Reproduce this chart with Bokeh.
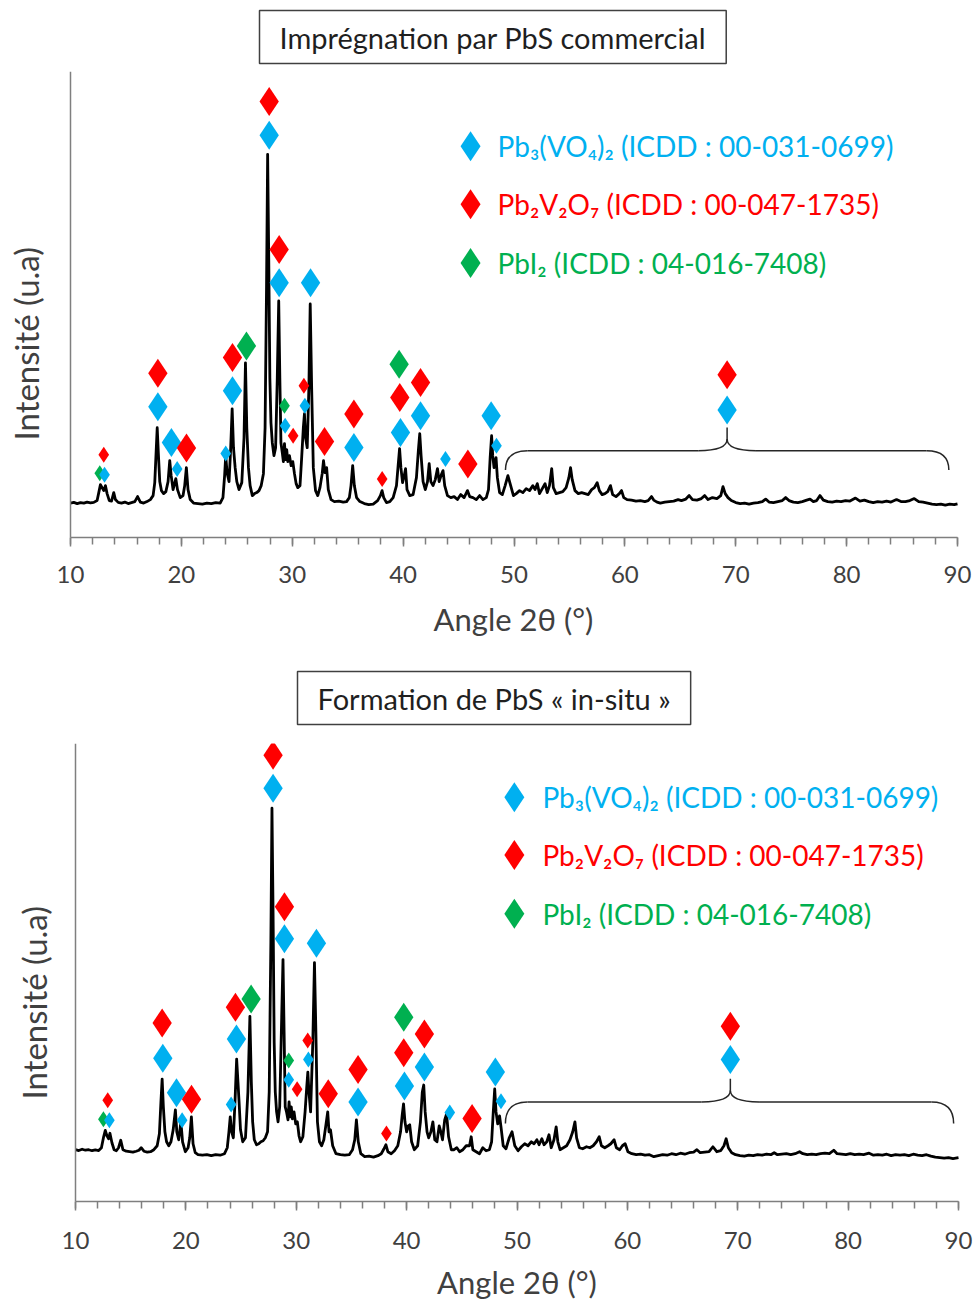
from bokeh.embed import file_html
from bokeh.models import FixedTicker, Label, Range1d, Span, Title
from bokeh.plotting import figure
from bokeh.resources import INLINE

FONT = "Lato"

# ---------------------------------------------------------------- data
# Diffractograms: (2theta in degrees, intensity in counts)
top_scan = [
    (10.0, 345), (10.3, 352), (10.6, 340), (10.9, 350), (11.2, 344), (11.5, 355), (11.8, 348),
    (12.1, 352), (12.4, 370), (12.55, 450), (12.7, 530), (12.85, 500), (13.0, 470), (13.15, 520),
    (13.3, 440), (13.5, 370), (13.7, 365), (13.9, 450), (14.05, 380), (14.3, 352), (14.6, 345),
    (14.9, 355), (15.2, 340), (15.5, 350), (15.8, 360), (16.05, 410), (16.3, 355), (16.6, 345),
    (16.9, 360), (17.2, 380), (17.45, 420), (17.6, 550), (17.72, 850), (17.82, 1100), (17.92, 850),
    (18.05, 560), (18.2, 470), (18.4, 440), (18.6, 460), (18.8, 560), (18.95, 770), (19.08, 620),
    (19.25, 480), (19.5, 590), (19.65, 480), (19.9, 400), (20.15, 420), (20.3, 520), (20.45, 700),
    (20.6, 480), (20.8, 380), (21.1, 345), (21.5, 340), (21.9, 335), (22.3, 345), (22.7, 340),
    (23.1, 350), (23.5, 345), (23.75, 400), (23.9, 620), (24.0, 820), (24.12, 650), (24.3, 560),
    (24.45, 900), (24.58, 1290), (24.7, 900), (24.85, 700), (25.0, 560), (25.2, 480), (25.45, 550),
    (25.65, 1000), (25.78, 1750), (25.9, 1100), (26.05, 700), (26.2, 520), (26.4, 420), (26.6, 440),
    (26.8, 450), (27.0, 470), (27.2, 520), (27.4, 640), (27.55, 1100), (27.68, 2500), (27.78, 3840),
    (27.88, 2800), (27.98, 1600), (28.08, 1150), (28.2, 950), (28.35, 820), (28.5, 900),
    (28.65, 1600), (28.78, 2370), (28.88, 1600), (28.98, 950), (29.1, 850), (29.2, 760), (29.3, 940),
    (29.4, 780), (29.5, 880), (29.6, 760), (29.75, 820), (29.9, 720), (30.05, 760), (30.2, 640),
    (30.35, 540), (30.5, 500), (30.7, 520), (30.85, 800), (31.0, 1100), (31.1, 1240), (31.2, 1000),
    (31.35, 900), (31.5, 1500), (31.62, 2340), (31.75, 1500), (31.9, 700), (32.1, 470), (32.3, 420),
    (32.5, 500), (32.7, 640), (32.82, 770), (32.95, 650), (33.1, 700), (33.25, 480), (33.5, 380),
    (33.8, 360), (34.2, 365), (34.6, 355), (34.9, 360), (35.15, 400), (35.3, 520), (35.45, 720),
    (35.6, 520), (35.8, 400), (36.1, 360), (36.5, 340), (36.9, 330), (37.3, 335), (37.7, 370),
    (37.95, 420), (38.1, 470), (38.25, 400), (38.5, 350), (38.8, 360), (39.1, 400), (39.4, 520),
    (39.55, 720), (39.68, 890), (39.8, 700), (39.95, 550), (40.1, 620), (40.22, 690), (40.35, 480),
    (40.6, 420), (40.9, 430), (41.2, 600), (41.38, 880), (41.5, 1040), (41.62, 820), (41.8, 560),
    (42.0, 480), (42.2, 560), (42.35, 740), (42.5, 560), (42.7, 520), (42.9, 580), (43.1, 690),
    (43.25, 560), (43.45, 630), (43.6, 670), (43.75, 520), (44.0, 420), (44.3, 400), (44.6, 410),
    (44.9, 380), (45.2, 430), (45.5, 400), (45.8, 470), (46.0, 410), (46.3, 400), (46.6, 380),
    (46.9, 420), (47.2, 380), (47.5, 400), (47.7, 480), (47.85, 800), (47.98, 1020), (48.08, 820),
    (48.2, 700), (48.38, 800), (48.5, 600), (48.7, 450), (48.95, 430), (49.2, 520), (49.45, 620),
    (49.7, 520), (49.95, 420), (50.2, 440), (50.5, 470), (50.8, 450), (51.1, 490), (51.4, 470),
    (51.7, 520), (51.9, 480), (52.1, 540), (52.3, 440), (52.5, 480), (52.8, 540), (53.0, 450),
    (53.2, 520), (53.4, 690), (53.55, 500), (53.8, 440), (54.1, 450), (54.4, 460), (54.7, 500),
    (54.95, 600), (55.1, 700), (55.25, 580), (55.5, 470), (55.8, 440), (56.1, 450), (56.4, 440),
    (56.7, 430), (57.0, 480), (57.25, 500), (57.5, 550), (57.7, 470), (57.95, 430), (58.2, 440),
    (58.45, 460), (58.7, 520), (58.9, 430), (59.2, 410), (59.5, 440), (59.7, 470), (59.9, 400),
    (60.2, 380), (60.6, 375), (61.0, 365), (61.4, 370), (61.8, 360), (62.1, 370), (62.4, 410),
    (62.6, 375), (62.9, 355), (63.2, 345), (63.6, 355), (64.0, 360), (64.4, 365), (64.8, 380),
    (65.1, 370), (65.5, 385), (65.8, 420), (66.1, 380), (66.5, 375), (66.9, 390), (67.2, 420),
    (67.5, 380), (67.9, 400), (68.3, 390), (68.65, 420), (68.85, 510), (69.05, 440), (69.3, 400),
    (69.6, 370), (70.0, 350), (70.4, 340), (70.8, 345), (71.2, 335), (71.6, 345), (72.0, 350),
    (72.4, 360), (72.7, 385), (73.0, 355), (73.4, 350), (73.8, 360), (74.2, 370), (74.5, 400),
    (74.8, 370), (75.2, 355), (75.6, 350), (76.0, 360), (76.4, 375), (76.7, 385), (77.0, 360),
    (77.3, 370), (77.6, 420), (77.9, 375), (78.3, 360), (78.7, 355), (79.1, 365), (79.5, 360),
    (79.9, 370), (80.3, 365), (80.8, 395), (81.2, 365), (81.6, 375), (82.0, 360), (82.4, 350),
    (82.8, 360), (83.2, 355), (83.6, 365), (84.0, 355), (84.5, 380), (84.9, 360), (85.3, 360),
    (85.7, 370), (86.1, 390), (86.5, 360), (86.9, 355), (87.3, 345), (87.7, 335), (88.1, 330),
    (88.5, 335), (88.9, 325), (89.3, 335), (89.7, 330), (90.0, 338),
]

bottom_scan = [
    (10.0, 520), (10.3, 512), (10.6, 525), (10.9, 515), (11.2, 520), (11.5, 510), (11.8, 518),
    (12.1, 512), (12.35, 540), (12.55, 650), (12.7, 715), (12.85, 660), (13.0, 630), (13.12, 685),
    (13.3, 590), (13.5, 520), (13.7, 510), (13.9, 540), (14.1, 615), (14.3, 520), (14.6, 505),
    (14.9, 500), (15.2, 495), (15.5, 505), (15.75, 515), (15.95, 540), (16.2, 505), (16.5, 495),
    (16.8, 500), (17.1, 520), (17.4, 560), (17.6, 680), (17.74, 1000), (17.85, 1230), (17.96, 950),
    (18.1, 700), (18.25, 600), (18.45, 560), (18.65, 600), (18.85, 720), (19.05, 920), (19.18, 700),
    (19.35, 620), (19.55, 800), (19.7, 600), (19.95, 500), (20.2, 540), (20.35, 640), (20.5, 850),
    (20.65, 580), (20.85, 490), (21.1, 470), (21.5, 465), (21.9, 470), (22.3, 460), (22.7, 470),
    (23.1, 465), (23.5, 480), (23.75, 540), (23.9, 700), (24.02, 850), (24.15, 700), (24.3, 640),
    (24.45, 1000), (24.6, 1430), (24.72, 1200), (24.82, 1000), (24.95, 720), (25.15, 600),
    (25.4, 640), (25.62, 1100), (25.8, 1860), (25.93, 1200), (26.05, 800), (26.2, 620), (26.4, 570),
    (26.6, 580), (26.8, 600), (27.0, 610), (27.2, 640), (27.4, 700), (27.55, 1100), (27.7, 2600),
    (27.8, 3950), (27.9, 2900), (28.0, 1600), (28.1, 1100), (28.22, 900), (28.35, 800), (28.5, 950),
    (28.65, 1700), (28.8, 2430), (28.9, 1700), (29.0, 950), (29.12, 900), (29.25, 820),
    (29.35, 1000), (29.45, 850), (29.55, 950), (29.65, 830), (29.8, 900), (29.95, 780), (30.1, 800),
    (30.25, 660), (30.4, 600), (30.6, 650), (30.8, 900), (30.95, 1150), (31.05, 1300), (31.15, 1100),
    (31.3, 900), (31.5, 1600), (31.65, 2400), (31.78, 1700), (31.92, 800), (32.1, 600), (32.3, 560),
    (32.5, 620), (32.7, 780), (32.85, 900), (32.97, 700), (33.1, 720), (33.3, 560), (33.6, 480),
    (34.0, 470), (34.4, 465), (34.8, 470), (35.1, 520), (35.3, 620), (35.45, 820), (35.62, 600),
    (35.85, 480), (36.2, 450), (36.6, 455), (37.0, 445), (37.4, 460), (37.7, 480), (37.95, 530),
    (38.12, 570), (38.3, 500), (38.6, 480), (38.9, 510), (39.2, 560), (39.45, 700), (39.6, 870),
    (39.72, 980), (39.85, 800), (40.0, 700), (40.15, 760), (40.28, 770), (40.45, 600), (40.7, 520),
    (41.0, 560), (41.25, 800), (41.42, 1100), (41.55, 1170), (41.68, 900), (41.85, 700), (42.0, 640),
    (42.2, 700), (42.38, 800), (42.55, 620), (42.75, 600), (42.95, 760), (43.1, 700), (43.25, 620),
    (43.45, 820), (43.62, 880), (43.8, 650), (44.05, 520), (44.3, 520), (44.55, 540), (44.8, 500),
    (45.1, 520), (45.4, 560), (45.7, 560), (45.85, 650), (46.0, 520), (46.3, 500), (46.6, 480),
    (46.9, 540), (47.2, 510), (47.5, 520), (47.7, 600), (47.85, 900), (47.98, 1130), (48.1, 900),
    (48.25, 780), (48.42, 860), (48.55, 750), (48.75, 560), (49.0, 530), (49.3, 640), (49.55, 700),
    (49.8, 560), (50.1, 510), (50.4, 550), (50.7, 580), (51.0, 560), (51.3, 600), (51.55, 580),
    (51.8, 620), (52.0, 570), (52.25, 630), (52.45, 570), (52.7, 600), (52.9, 670), (53.1, 540),
    (53.35, 620), (53.55, 750), (53.7, 600), (53.9, 520), (54.2, 540), (54.5, 560), (54.8, 620),
    (55.05, 700), (55.25, 800), (55.4, 640), (55.65, 540), (55.95, 530), (56.3, 550), (56.6, 540),
    (56.9, 560), (57.2, 600), (57.45, 650), (57.65, 560), (57.95, 540), (58.25, 560), (58.5, 580),
    (58.8, 620), (59.0, 540), (59.3, 520), (59.55, 560), (59.8, 580), (60.05, 500), (60.4, 480),
    (60.8, 470), (61.2, 475), (61.6, 465), (62.0, 470), (62.4, 450), (62.8, 460), (63.2, 470),
    (63.6, 465), (64.0, 480), (64.4, 470), (64.8, 485), (65.2, 475), (65.6, 490), (66.0, 495),
    (66.3, 520), (66.6, 490), (67.0, 495), (67.4, 500), (67.75, 550), (68.1, 500), (68.45, 510),
    (68.75, 560), (68.95, 630), (69.15, 540), (69.45, 490), (69.8, 470), (70.2, 460), (70.6, 455),
    (71.0, 465), (71.4, 460), (71.8, 470), (72.2, 465), (72.6, 475), (73.0, 470), (73.3, 490),
    (73.6, 470), (74.0, 475), (74.4, 480), (74.8, 470), (75.2, 480), (75.6, 500), (75.9, 480),
    (76.3, 470), (76.7, 475), (77.1, 470), (77.5, 480), (77.9, 485), (78.3, 480), (78.7, 515),
    (79.0, 480), (79.4, 475), (79.8, 470), (80.2, 480), (80.6, 470), (81.0, 475), (81.4, 470),
    (81.9, 485), (82.3, 465), (82.7, 470), (83.1, 465), (83.5, 475), (83.9, 460), (84.3, 470),
    (84.7, 465), (85.1, 470), (85.5, 460), (85.9, 475), (86.3, 465), (86.7, 460), (87.1, 470),
    (87.5, 455), (87.9, 445), (88.3, 440), (88.7, 435), (89.1, 440), (89.5, 430), (90.0, 440),
]

# Indexed reflections (same list in both samples): phase and strong/weak line
reflection_phase = [
    "PbI2", "Pb3(VO4)2", "Pb2V2O7", "Pb3(VO4)2", "Pb2V2O7", "Pb3(VO4)2", "Pb3(VO4)2",
    "Pb2V2O7", "Pb3(VO4)2", "Pb3(VO4)2", "Pb2V2O7", "PbI2", "Pb3(VO4)2", "Pb2V2O7",
    "Pb3(VO4)2", "Pb2V2O7", "PbI2", "Pb3(VO4)2", "Pb2V2O7", "Pb2V2O7", "Pb3(VO4)2",
    "Pb3(VO4)2", "Pb2V2O7", "Pb3(VO4)2", "Pb2V2O7", "Pb2V2O7", "Pb3(VO4)2", "Pb2V2O7",
    "PbI2", "Pb3(VO4)2", "Pb2V2O7", "Pb3(VO4)2", "Pb2V2O7", "Pb3(VO4)2", "Pb3(VO4)2",
    "Pb3(VO4)2", "Pb2V2O7",
]
reflection_strong = [
    0, 0, 0, 1, 1, 1, 0, 1, 0, 1, 1, 1, 1, 1, 1, 1, 0, 0, 0,
    0, 0, 1, 1, 1, 1, 0, 1, 1, 1, 1, 1, 0, 1, 1, 0, 1, 1,
]

top_mark_angle = [
    12.64, 13.07, 13.00, 17.88, 17.88, 19.10, 19.62, 20.46, 24.00, 24.61, 24.61, 25.87, 27.92,
    27.92, 28.82, 28.82, 29.30, 29.36, 30.08, 31.05, 31.14, 31.65, 32.91, 35.56, 35.56, 38.11,
    39.76, 39.70, 39.64, 41.57, 41.57, 43.82, 45.84, 47.94, 48.42, 69.22, 69.22,
]
top_mark_level = [
    643, 630, 830, 1310, 1647, 953, 687, 897, 843, 1470, 1803, 1920, 4030, 4370, 2553, 2887,
    1320, 1120, 1020, 1520, 1320, 2553, 963, 903, 1237, 587, 1053, 1403, 1737, 1220, 1553,
    787, 737, 1220, 920, 1277, 1630,
]
bottom_mark_angle = [
    12.53, 13.07, 12.92, 17.91, 17.85, 19.15, 19.66, 20.51, 24.10, 24.58, 24.49, 25.91, 27.90,
    27.90, 28.93, 28.93, 29.32, 29.32, 30.08, 31.04, 31.10, 31.83, 32.90, 35.60, 35.60, 38.17,
    39.80, 39.74, 39.74, 41.61, 41.61, 43.91, 45.93, 48.04, 48.55, 69.33, 69.33,
]
bottom_mark_level = [
    827, 817, 1017, 1440, 1793, 1093, 817, 1027, 973, 1633, 1950, 2033, 4150, 4483, 2640, 2960,
    1417, 1223, 1127, 1617, 1427, 2593, 1083, 1000, 1327, 683, 1160, 1493, 1850, 1350, 1683,
    893, 833, 1300, 1007, 1427, 1760,
]

phases = ["Pb3(VO4)2", "Pb2V2O7", "PbI2"]
phase_labels = [
    "Pb₃(VO₄)₂ (ICDD : 00-031-0699)",
    "Pb₂V₂O₇ (ICDD : 00-047-1735)",
    "PbI₂ (ICDD : 04-016-7408)",
]
x_tick_values = [10, 20, 30, 40, 50, 60, 70, 80, 90]
x_minor_values = list(range(10, 91, 2))
X_MIN, X_MAX = 10, 90

# brace grouping the reflections above 50 deg: left end, tip, right end, foot, bar, tip height
top_brace = (49.23, 69.22, 89.22, 677, 870, 1103)
bottom_brace = (48.95, 69.33, 89.56, 783, 1000, 1233)

# ---------------------------------------------------------------- style
PHASE_COLOR = {"Pb3(VO4)2": "#00B0F0", "Pb2V2O7": "#FF0000", "PbI2": "#00B050"}
AXIS_GREY = "#7F7F7F"
TEXT_GREY = "#404040"
WIDTH = 976


def draw_brace(p, brace):
    x0, xm, x1, y_foot, y_bar, y_tip = brace
    corner = 2.0
    bend = 2.6
    y_mid = y_bar + 0.5 * (y_tip - y_bar)
    style = dict(line_color="#262626", line_width=1.5)
    p.quadratic(x0=[x0, xm - bend, xm, x1], y0=[y_foot, y_bar, y_mid, y_foot],
                x1=[x0 + corner, xm, xm + bend, x1 - corner], y1=[y_bar, y_mid, y_bar, y_bar],
                cx=[x0, xm, xm, x1], cy=[y_bar, y_bar, y_bar, y_bar], **style)
    p.segment(x0=[x0 + corner, xm + bend, xm], y0=[y_bar, y_bar, y_mid],
              x1=[xm - bend, x1 - corner, xm], y1=[y_bar, y_bar, y_tip], **style)


def xrd_panel(title, scan, mark_angle, mark_level, brace, *, height, frame_left, frame_top,
              frame_bottom, axis_left, axis_right, y_max, title_left, title_standoff,
              legend_x, legend_text_x, legend_y, ylabel_offset, ylabel_standoff,
              tick_standoff, xlabel_standoff):
    two_theta = [a for a, _ in scan]
    counts = [c for _, c in scan]

    # the frame runs to the right edge; the 10-90 deg axis sits inside it
    px_per_deg = (axis_right - axis_left) / (X_MAX - X_MIN)
    x_lo = X_MIN - (axis_left - frame_left) / px_per_deg
    x_hi = X_MAX + (WIDTH - axis_right) / px_per_deg

    p = figure(
        width=WIDTH, height=height,
        x_range=Range1d(x_lo, x_hi), y_range=Range1d(0, y_max),
        output_backend="svg", toolbar_location=None, y_axis_location=None,
        min_border_left=frame_left, min_border_right=0,
        min_border_top=frame_top, min_border_bottom=height - frame_bottom,
        title=Title(
            text=title, align="left", offset=title_left - frame_left,
            standoff=title_standoff, vertical_align="bottom",
            text_font=FONT, text_font_size="29px", text_font_style="normal",
            text_color="#1F1F1F", border_line_color="#404040", border_line_width=1.5,
            padding=dict(left=20, right=20, top=9, bottom=9),
        ),
    )
    p.background_fill_color = "white"
    p.border_fill_color = "white"
    p.outline_line_color = None
    p.xgrid.visible = False
    p.ygrid.visible = False

    xa = p.xaxis[0]
    xa.bounds = (X_MIN, X_MAX)
    xa.ticker = FixedTicker(ticks=x_tick_values, minor_ticks=x_minor_values)
    xa.axis_line_color = AXIS_GREY
    xa.axis_line_width = 1.5
    xa.major_tick_line_color = AXIS_GREY
    xa.minor_tick_line_color = AXIS_GREY
    xa.major_tick_line_width = 1.5
    xa.minor_tick_line_width = 1.5
    xa.major_tick_in = 0
    xa.major_tick_out = 9
    xa.minor_tick_in = 0
    xa.minor_tick_out = 7
    xa.major_label_standoff = tick_standoff
    xa.major_label_text_font = FONT
    xa.major_label_text_font_size = "24px"
    xa.major_label_text_color = TEXT_GREY
    xa.axis_label = "Angle 2θ (°)"
    xa.axis_label_text_font = FONT
    xa.axis_label_text_font_size = "31px"
    xa.axis_label_text_font_style = "normal"
    xa.axis_label_text_color = TEXT_GREY
    xa.axis_label_standoff = xlabel_standoff

    # vertical intensity axis (no graduations) and its title
    p.add_layout(Span(location=X_MIN, dimension="height", line_color=AXIS_GREY, line_width=1.5))
    p.add_layout(Title(
        text="Intensité (u.a)", align="left", offset=ylabel_offset, vertical_align="top",
        standoff=ylabel_standoff, text_font=FONT, text_font_size="33px",
        text_font_style="normal", text_color=TEXT_GREY,
    ), "left")

    # diffractogram
    p.line(two_theta, counts, line_color="black", line_width=2.8, line_join="round")

    # brace over the weak high-angle reflections
    draw_brace(p, brace)

    # reflection markers
    p.scatter(
        x=mark_angle, y=mark_level, marker="diamond",
        size=[29 if s else 16 for s in reflection_strong],
        fill_color=[PHASE_COLOR[ph] for ph in reflection_phase], line_color=None,
    )

    # legend
    p.scatter(x=[legend_x] * 3, y=legend_y, marker="diamond", size=30,
              fill_color=[PHASE_COLOR[ph] for ph in phases], line_color=None)
    for ph, lab, y in zip(phases, phase_labels, legend_y):
        p.add_layout(Label(
            x=legend_text_x, y=y, text=lab, text_align="left", text_baseline="middle",
            text_font=FONT, text_font_size="28px", text_color=PHASE_COLOR[ph],
        ))
    return p


top = xrd_panel(
    "Imprégnation par PbS commercial", top_scan, top_mark_angle, top_mark_level, top_brace,
    height=650, frame_left=50, frame_top=70, frame_bottom=537, axis_left=70, axis_right=957,
    y_max=4670, title_left=259, title_standoff=16,
    legend_x=46.08, legend_text_x=48.51, legend_y=[3920, 3340, 2750],
    ylabel_offset=97, ylabel_standoff=6, tick_standoff=19, xlabel_standoff=14,
)
bottom = xrd_panel(
    "Formation de PbS « in-situ »", bottom_scan, bottom_mark_angle, bottom_mark_level, bottom_brace,
    height=653, frame_left=57, frame_top=92, frame_bottom=552, axis_left=75, axis_right=958,
    y_max=4600, title_left=297, title_standoff=38,
    legend_x=49.76, legend_text_x=52.3, legend_y=[4060, 3480, 2890],
    ylabel_offset=102, ylabel_standoff=4, tick_standoff=21, xlabel_standoff=11,
)

open("out.html", "w").write(file_html([top, bottom], INLINE))
